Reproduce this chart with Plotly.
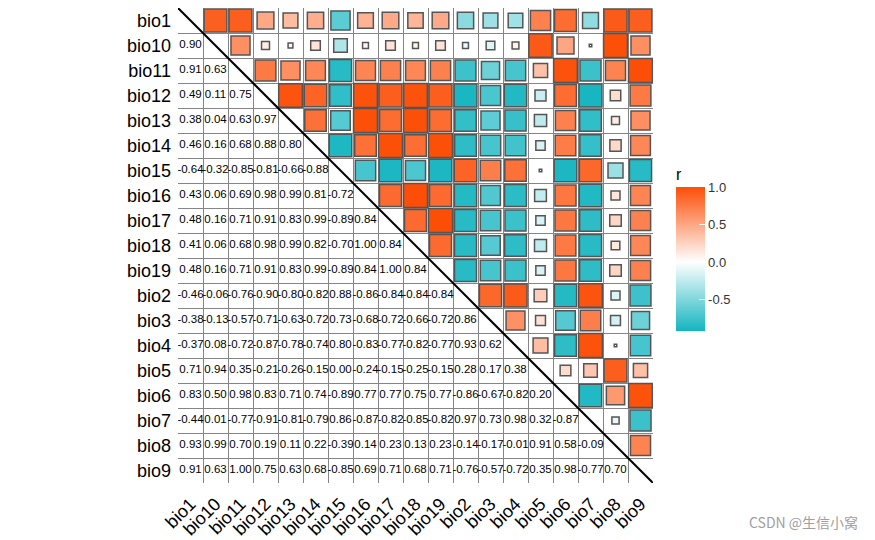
import numpy as np
import plotly.graph_objects as go

labels = ["bio1", "bio10", "bio11", "bio12", "bio13", "bio14", "bio15", "bio16", "bio17",
          "bio18", "bio19", "bio2", "bio3", "bio4", "bio5", "bio6", "bio7", "bio8", "bio9"]

# lower-triangle correlations, row by row (columns in label order)
r_bio10 = [0.90]
r_bio11 = [0.91, 0.63]
r_bio12 = [0.49, 0.11, 0.75]
r_bio13 = [0.38, 0.04, 0.63, 0.97]
r_bio14 = [0.46, 0.16, 0.68, 0.88, 0.80]
r_bio15 = [-0.64, -0.32, -0.85, -0.81, -0.66, -0.88]
r_bio16 = [0.43, 0.06, 0.69, 0.98, 0.99, 0.81, -0.72]
r_bio17 = [0.48, 0.16, 0.71, 0.91, 0.83, 0.99, -0.89, 0.84]
r_bio18 = [0.41, 0.06, 0.68, 0.98, 0.99, 0.82, -0.70, 1.00, 0.84]
r_bio19 = [0.48, 0.16, 0.71, 0.91, 0.83, 0.99, -0.89, 0.84, 1.00, 0.84]
r_bio2 = [-0.46, -0.06, -0.76, -0.90, -0.80, -0.82, 0.88, -0.86, -0.84, -0.84, -0.84]
r_bio3 = [-0.38, -0.13, -0.57, -0.71, -0.63, -0.72, 0.73, -0.68, -0.72, -0.66, -0.72, 0.86]
r_bio4 = [-0.37, 0.08, -0.72, -0.87, -0.78, -0.74, 0.80, -0.83, -0.77, -0.82, -0.77, 0.93, 0.62]
r_bio5 = [0.71, 0.94, 0.35, -0.21, -0.26, -0.15, 0.00, -0.24, -0.15, -0.25, -0.15, 0.28, 0.17, 0.38]
r_bio6 = [0.83, 0.50, 0.98, 0.83, 0.71, 0.74, -0.89, 0.77, 0.77, 0.75, 0.77, -0.86, -0.67, -0.82, 0.20]
r_bio7 = [-0.44, 0.01, -0.77, -0.91, -0.81, -0.79, 0.86, -0.87, -0.82, -0.85, -0.82, 0.97, 0.73, 0.98, 0.32, -0.87]
r_bio8 = [0.93, 0.99, 0.70, 0.19, 0.11, 0.22, -0.39, 0.14, 0.23, 0.13, 0.23, -0.14, -0.17, -0.01, 0.91, 0.58, -0.09]
r_bio9 = [0.91, 0.63, 1.00, 0.75, 0.63, 0.68, -0.85, 0.69, 0.71, 0.68, 0.71, -0.76, -0.57, -0.72, 0.35, 0.98, -0.77, 0.70]

lower_rows = [[], r_bio10, r_bio11, r_bio12, r_bio13, r_bio14, r_bio15, r_bio16, r_bio17,
              r_bio18, r_bio19, r_bio2, r_bio3, r_bio4, r_bio5, r_bio6, r_bio7, r_bio8, r_bio9]

n = len(labels)
R = np.eye(n)
for i, row in enumerate(lower_rows):
    for j, v in enumerate(row):
        R[i, j] = v
        R[j, i] = v

# layout geometry (page body has an 8px margin)
OFF = 8
W, H = 875 - OFF, 540 - OFF
PX0, PY0 = 178, 8          # plot area top-left on screen
PW = 475
ML, MT = PX0 - OFF, PY0 - OFF
MR = W - ML - PW
MB = H - MT - PW
cell = PW / n
def px(sx):
    return (sx - PX0) / PW
def py(sy):
    return (PY0 + PW - sy) / PW

teal = np.array([0, 175, 187])
white = np.array([255, 255, 255])
orange = np.array([252, 78, 7])
cmin, cmax = -0.92, 1.0
low_col = white + (teal - white) * (abs(cmin) / 1.0)
p0 = (0 - cmin) / (cmax - cmin)
def rgb(c):
    return "rgb(%d,%d,%d)" % tuple(np.round(c).astype(int))
colorscale = [[0, rgb(low_col)], [p0, "rgb(255,255,255)"], [1, rgb(orange)]]

ux, uy, uv, us = [], [], [], []
lx, ly, lt = [], [], []
for i in range(n):
    for j in range(n):
        if j > i:
            ux.append(j); uy.append(i); uv.append(R[i, j])
            us.append(max(cell * 0.96 * np.sqrt(abs(R[i, j])), 2.5))
        elif j < i:
            lx.append(j); ly.append(i); lt.append("%.2f" % R[i, j])

fig = go.Figure()
fig.add_trace(go.Scatter(
    x=ux, y=uy, mode="markers", hoverinfo="skip",
    marker=dict(symbol="square", size=us, color=uv, colorscale=colorscale,
                cmin=cmin, cmax=cmax, opacity=1,
                line=dict(color="#555555", width=1.5),
                colorbar=dict(
                    title=dict(text="r", side="top", font=dict(size=16, color="black")),
                    x=px(676), xanchor="left", xpad=0,
                    y=py(248), yanchor="middle", ypad=0,
                    len=166, lenmode="pixels", thickness=29,
                    outlinewidth=0, ticks="inside", tickcolor="white", ticklen=6,
                    tickvals=[1.0, 0.5, 0.0, -0.5],
                    ticktext=["1.0", "0.5", "0.0", "-0.5"],
                    tickfont=dict(size=13, color="#333333")))))
fig.add_trace(go.Scatter(
    x=lx, y=ly, mode="text", text=lt, hoverinfo="skip",
    textfont=dict(size=11.5, color="black", family="Liberation Sans, Arial")))

fig.add_shape(type="line", xref="x", yref="y", x0=-0.5, y0=-0.5, x1=n - 0.5, y1=n - 0.5,
              line=dict(color="black", width=2))

axis_common = dict(
    tickmode="array", tickvals=list(range(n)), ticktext=labels,
    showgrid=False, zeroline=False, showline=False,
    ticks="", ticklabelstandoff=6,
    tickfont=dict(size=18, color="black", family="Liberation Sans, Arial"),
    minor=dict(tickmode="linear", tick0=-0.5, dtick=1, showgrid=True,
               gridcolor="#858585", gridwidth=1, ticks=""),
)
fig.update_xaxes(range=[-0.5, n - 0.5], tickangle=-45, **axis_common)
fig.update_yaxes(range=[n - 0.5, -0.5], **axis_common)

fig.add_annotation(text="CSDN @生信小窝", xref="paper", yref="paper",
                   x=px(860), y=py(522), xanchor="right", yanchor="middle",
                   showarrow=False,
                   font=dict(size=14, color="#a0a0a0", family="Noto Sans CJK SC"))

fig.update_layout(
    width=W, height=H, autosize=False,
    margin=dict(l=ML, r=MR, t=MT, b=MB),
    plot_bgcolor="white", paper_bgcolor="white",
    showlegend=False,
    font=dict(family="Liberation Sans, Arial", color="black"),
)
fig.write_html("out.html")
